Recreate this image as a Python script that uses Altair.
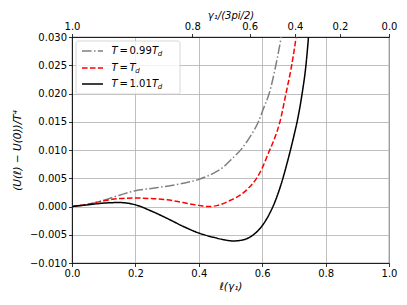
import altair as alt
import pandas as pd

# ---------------- data ----------------
series_names = ["T = 0.99 Td", "T = Td", "T = 1.01 Td"]
series_colors = ["#808080", "#ff0000", "#000000"]
series_dash = [[9.6, 2.4, 1.5, 2.4], [5.55, 2.4], [1, 0]]
legend_values = ["0.99", "", "1.01"]

ell_099 = [0.0, 0.05, 0.10, 0.15, 0.20, 0.25, 0.30, 0.35, 0.40, 0.45, 0.48, 0.50,
           0.535, 0.56, 0.588, 0.605, 0.622, 0.643, 0.660, 0.666]
u_099 = [0.0, 0.0004, 0.0011, 0.0020, 0.0028, 0.0032, 0.0036, 0.0041, 0.0048, 0.0060,
         0.0071, 0.0082, 0.0102, 0.0122, 0.0150, 0.0175, 0.0200, 0.0250, 0.0300, 0.0320]

ell_100 = [0.0, 0.05, 0.10, 0.15, 0.20, 0.25, 0.30, 0.35, 0.40, 0.43, 0.46, 0.50,
           0.53, 0.55, 0.58, 0.60, 0.62, 0.64, 0.656, 0.675, 0.693, 0.707, 0.713]
u_100 = [0.0, 0.0004, 0.0010, 0.0014, 0.0015, 0.0014, 0.0012, 0.0007, 0.0002, 0.0000,
         0.0002, 0.0011, 0.0020, 0.0029, 0.0048, 0.0068, 0.0095, 0.0122, 0.0150, 0.0200,
         0.0250, 0.0300, 0.0325]

ell_101 = [0.0, 0.05, 0.10, 0.15, 0.20, 0.25, 0.30, 0.35, 0.40, 0.45, 0.48, 0.51,
           0.54, 0.57, 0.60, 0.62, 0.64, 0.66, 0.68, 0.70, 0.712, 0.726, 0.738, 0.746, 0.750]
u_101 = [0.0, 0.0003, 0.0006, 0.0007, 0.0003, -0.0008, -0.0021, -0.0035, -0.0047, -0.0055,
         -0.0059, -0.0061, -0.0059, -0.0051, -0.0034, -0.0016, 0.0008, 0.0040, 0.0080,
         0.0125, 0.0155, 0.0200, 0.0250, 0.0300, 0.0330]

x_ticks = [0.0, 0.2, 0.4, 0.6, 0.8, 1.0]
y_ticks = [-0.010, -0.005, 0.0, 0.005, 0.010, 0.015, 0.020, 0.025, 0.030]
top_tick_pos = [0.0, 0.3795, 0.5606, 0.7035, 0.8454, 1.0]
top_tick_labels = ["1.0", "0.8", "0.6", "0.4", "0.2", "0.0"]

rows = []
for name, xs, ys in zip(series_names, [ell_099, ell_100, ell_101], [u_099, u_100, u_101]):
    for i, (a, b) in enumerate(zip(xs, ys)):
        rows.append({"series": name, "ell": a, "u": b, "idx": i})
df = pd.DataFrame(rows)

FONT = "DejaVu Sans"
W, H = 317, 226

x_scale = alt.Scale(domain=[0, 1], nice=False, zero=False)
y_scale = alt.Scale(domain=[-0.010, 0.030], nice=False, zero=False)

lines = alt.Chart(df).mark_line(clip=True, strokeWidth=1.5, interpolate="monotone").encode(
    x=alt.X("ell:Q", scale=x_scale,
            axis=alt.Axis(values=x_ticks, format=".1f", title="ℓ(γ₁)",
                          titleFontStyle="italic", grid=True, titlePadding=3)),
    y=alt.Y("u:Q", scale=y_scale,
            axis=alt.Axis(values=y_ticks, format=".3f", title="(U(ℓ) − U(0))/T⁴",
                          titleFontStyle="italic", grid=True, titlePadding=7)),
    color=alt.Color("series:N", scale=alt.Scale(domain=series_names, range=series_colors),
                    legend=None),
    strokeDash=alt.StrokeDash("series:N",
                              scale=alt.Scale(domain=series_names, range=series_dash),
                              legend=None),
    order="idx:Q",
)

top_df = pd.DataFrame({"ell": top_tick_pos})
label_expr = ("[" + ",".join("'" + s + "'" for s in top_tick_labels) + "][indexof(["
              + ",".join(str(v) for v in top_tick_pos) + "], datum.value)]")
top_axis = alt.Chart(top_df).mark_tick(opacity=0).encode(
    x=alt.X("ell:Q", scale=x_scale,
            axis=alt.Axis(orient="top", values=top_tick_pos, labelExpr=label_expr,
                          title="γ₁/(3pi/2)", titleFontStyle="italic", grid=False,
                          titlePadding=1, titleFontSize=10)),
)

# ---------------- custom legend (matplotlib style) ----------------
one = pd.DataFrame({"k": [0]})
legend_layers = [
    alt.Chart(one).mark_rect(fill="white", fillOpacity=0.8, stroke="#cccccc",
                             strokeWidth=0.8, cornerRadius=2).encode(
        x=alt.value(4), x2=alt.value(108), y=alt.value(4), y2=alt.value(57))
]
row_y = [14, 31, 47]
for i in range(3):
    y = row_y[i]
    legend_layers.append(
        alt.Chart(one).mark_rule(color=series_colors[i], strokeWidth=1.5,
                                 strokeDash=series_dash[i]).encode(
            x=alt.value(10), x2=alt.value(31), y=alt.value(y)))
    legend_layers.append(
        alt.Chart(one).mark_text(text="T", font=FONT, fontSize=10, fontStyle="italic",
                                 align="left", baseline="middle").encode(
            x=alt.value(39.5), y=alt.value(y)))
    legend_layers.append(
        alt.Chart(one).mark_text(text="=", font=FONT, fontSize=10,
                                 align="left", baseline="middle").encode(
            x=alt.value(47.5), y=alt.value(y)))
    xt = 57.5
    if legend_values[i]:
        legend_layers.append(
            alt.Chart(one).mark_text(text=legend_values[i], font=FONT, fontSize=10,
                                     align="left", baseline="middle").encode(
                x=alt.value(57.5), y=alt.value(y)))
        xt = 80
    legend_layers.append(
        alt.Chart(one).mark_text(text="T", font=FONT, fontSize=10, fontStyle="italic",
                                 align="left", baseline="middle").encode(
            x=alt.value(xt), y=alt.value(y)))
    legend_layers.append(
        alt.Chart(one).mark_text(text="d", font=FONT, fontSize=7, fontStyle="italic",
                                 align="left", baseline="middle").encode(
            x=alt.value(xt + 5.8), y=alt.value(y + 3)))

chart = alt.layer(lines, top_axis, *legend_layers).resolve_axis(
    x="independent"
).properties(
    width=W, height=H,
    autosize=alt.AutoSizeParams(type="none"),
    padding={"left": 64, "top": 29, "right": 10, "bottom": 34},
).configure_view(
    stroke="black", strokeWidth=0.8
).configure_axis(
    labelFont=FONT, titleFont=FONT, labelFontSize=10, titleFontSize=10.5,
    labelColor="black", titleColor="black", titleFontWeight="normal",
    domainColor="black", domainWidth=0.8, tickColor="black", tickWidth=0.8,
    tickSize=3.5, labelPadding=2, gridColor="#b0b0b0", gridWidth=0.8,
    labelFlush=False,
)

chart.save("out.html", embed_options={"renderer": "svg", "actions": False})
